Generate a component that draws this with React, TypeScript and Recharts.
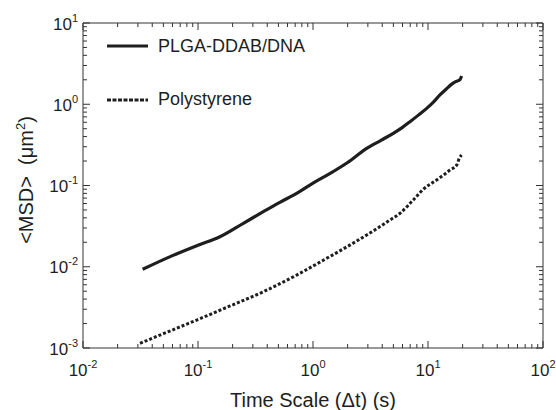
import React from 'react';
import { LineChart, Line, XAxis, YAxis, Label } from 'recharts';

const plgaTime = [0.033, 0.06, 0.1, 0.155, 0.25, 0.37, 0.52, 0.721, 1.0, 1.41, 2.0, 2.93, 3.9, 4.99, 6.0, 6.97, 8.3, 9.74, 11.2, 12.7, 14.5, 16.1, 17.4, 18.3, 19.0, 19.6];
const plgaMsd = [0.0093, 0.0137, 0.0184, 0.0234, 0.0345, 0.0476, 0.0625, 0.08, 0.107, 0.141, 0.192, 0.287, 0.36, 0.439, 0.52, 0.61, 0.74, 0.89, 1.07, 1.3, 1.55, 1.77, 1.9, 1.95, 2.02, 2.23];
const psTime = [0.0313, 0.05, 0.0975, 0.19, 0.37, 0.721, 1.315, 2.0, 2.93, 3.8, 4.67, 5.71, 7.45, 9.1, 11.9, 13.8, 15.5, 17.8, 18.7, 19.6];
const psMsd = [0.00114, 0.0015, 0.00221, 0.00329, 0.00493, 0.0079, 0.0127, 0.0178, 0.0246, 0.031, 0.0376, 0.0455, 0.0664, 0.0898, 0.117, 0.136, 0.155, 0.179, 0.216, 0.237];

const xMajor = [0.01, 0.1, 1, 10, 100];
const xExp = ['-2', '-1', '0', '1', '2'];
const yMajor = [0.001, 0.01, 0.1, 1, 10];
const yExp = ['-3', '-2', '-1', '0', '1'];
const minorSteps = [2, 3, 4, 5, 6, 7, 8, 9];

const plgaData = plgaTime.map((t, i) => ({ t, msd: plgaMsd[i] }));
const psData = psTime.map((t, i) => ({ t, msd: psMsd[i] }));

const withMinors = (majors: number[]) => {
  const out: number[] = [];
  majors.forEach((m, i) => {
    out.push(m);
    if (i < majors.length - 1) minorSteps.forEach(s => out.push(+(m * s).toPrecision(6)));
  });
  return out;
};
const xTicks = withMinors(xMajor);
const yTicks = withMinors(yMajor);

const FONT = '"Liberation Sans", Arial, sans-serif';
const INK = '#1e1e1e';
const AXIS = '#333';

const BottomTick = ({ x, y, payload }: any) => {
  const i = xMajor.indexOf(payload.value);
  const major = i >= 0;
  return (
    <g>
      <line x1={x} x2={x} y1={y} y2={y - (major ? 7 : 4)} stroke={AXIS} strokeWidth={1} />
      {major && (
        <text x={x} y={y + 28} textAnchor="middle" fontSize={17} fill={INK} fontFamily={FONT}>
          10<tspan dy={-8} fontSize={11}>{xExp[i]}</tspan>
        </text>
      )}
    </g>
  );
};

const TopTick = ({ x, y, payload }: any) => {
  const major = xMajor.indexOf(payload.value) >= 0;
  return <line x1={x} x2={x} y1={y} y2={y + (major ? 7 : 4)} stroke={AXIS} strokeWidth={1} />;
};

const LeftTick = ({ x, y, payload }: any) => {
  const i = yMajor.indexOf(payload.value);
  const major = i >= 0;
  return (
    <g>
      <line x1={x} x2={x + (major ? 7 : 4)} y1={y} y2={y} stroke={AXIS} strokeWidth={1} />
      {major && (
        <text x={x - 5} y={y + 6.5} textAnchor="end" fontSize={17} fill={INK} fontFamily={FONT}>
          10<tspan dy={-8} fontSize={11}>{yExp[i]}</tspan>
        </text>
      )}
    </g>
  );
};

const RightTick = ({ x, y, payload }: any) => {
  const major = yMajor.indexOf(payload.value) >= 0;
  return <line x1={x} x2={x - (major ? 7 : 4)} y1={y} y2={y} stroke={AXIS} strokeWidth={1} />;
};

const ChartLegend = () => (
  <div style={{ position: 'absolute', left: 107, top: 34, fontFamily: FONT, fontSize: 18, color: INK }}>
    <div style={{ display: 'flex', alignItems: 'center', height: 24, marginBottom: 29 }}>
      <svg width={41} height={24}>
        <line x1={0} x2={41} y1={12} y2={12} stroke={INK} strokeWidth={3} />
      </svg>
      <span style={{ marginLeft: 10 }}>PLGA-DDAB/DNA</span>
    </div>
    <div style={{ display: 'flex', alignItems: 'center', height: 24 }}>
      <svg width={41} height={24}>
        <line x1={0} x2={41} y1={13} y2={13} stroke={INK} strokeWidth={3} strokeDasharray="4 1.5" />
      </svg>
      <span style={{ marginLeft: 10 }}>Polystyrene</span>
    </div>
  </div>
);

export default function App() {
  return (
    <div style={{ position: 'absolute', left: 0, top: 0, width: 556, height: 410, background: '#fff' }}>
      <LineChart width={556} height={410} margin={{ top: 22, right: 12, bottom: 61, left: 82 }}>
        <XAxis
          dataKey="t" type="number" scale="log" domain={[0.01, 100]} allowDataOverflow
          ticks={xTicks} interval={0} tick={<BottomTick />} tickLine={false}
          tickSize={0} tickMargin={0} height={1} axisLine={{ stroke: AXIS }}
        >
          <Label
            content={() => (
              <text x={313} y={407} textAnchor="middle" fontSize={20} fill={INK} fontFamily={FONT}>
                Time Scale (Δt) (s)
              </text>
            )}
          />
        </XAxis>
        <XAxis
          xAxisId="top" orientation="top" dataKey="t" type="number" scale="log" domain={[0.01, 100]} allowDataOverflow
          ticks={xTicks} interval={0} tick={<TopTick />} tickLine={false}
          tickSize={0} tickMargin={0} height={1} axisLine={{ stroke: AXIS }}
        />
        <YAxis
          type="number" scale="log" domain={[0.001, 10]} allowDataOverflow
          ticks={yTicks} interval={0} tick={<LeftTick />} tickLine={false}
          tickSize={0} tickMargin={0} width={1} axisLine={{ stroke: AXIS }}
        >
          <Label
            content={() => (
              <text x={33} y={180} transform="rotate(-90, 33, 180)" textAnchor="middle" fontSize={20} fill={INK} fontFamily={FONT}>
                {'<MSD>\u00a0\u00a0(μm'}<tspan dy={-8} fontSize={13}>2</tspan><tspan dy={8}>)</tspan>
              </text>
            )}
          />
        </YAxis>
        <YAxis
          yAxisId="right" orientation="right" type="number" scale="log" domain={[0.001, 10]} allowDataOverflow
          ticks={yTicks} interval={0} tick={<RightTick />} tickLine={false}
          tickSize={0} tickMargin={0} width={1} axisLine={{ stroke: AXIS }}
        />
        <Line
          data={plgaData} dataKey="msd" name="PLGA-DDAB/DNA" type="monotone"
          stroke={INK} strokeWidth={3.2} dot={false} isAnimationActive={false}
        />
        <Line
          data={psData} dataKey="msd" name="Polystyrene" type="monotone"
          stroke={INK} strokeWidth={3} strokeDasharray="3 2" dot={false} isAnimationActive={false}
        />
      </LineChart>
      <ChartLegend />
    </div>
  );
}
